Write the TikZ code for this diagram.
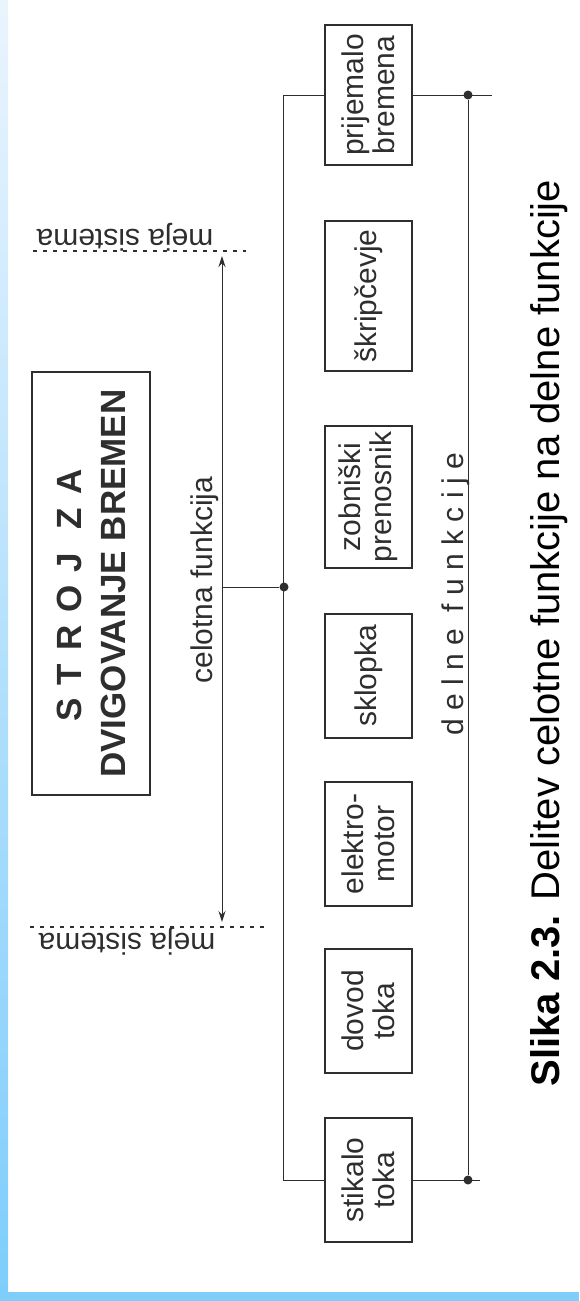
\documentclass[tikz,border=0pt]{standalone}
\usepackage{fontspec}
\setmainfont{Liberation Sans}
\usetikzlibrary{arrows.meta}
\definecolor{ink}{HTML}{2E2E2E}
\definecolor{stripa}{HTML}{EAF4FD}
\definecolor{stripb}{HTML}{7ECDFB}

\begin{document}
\begin{tikzpicture}[x=1pt,y=-1pt,>={Stealth[length=11pt,width=7pt]},color=ink,line width=1pt,
  funcbox/.style={draw,rotate=90,line width=1.4pt,minimum height=87pt,inner sep=0pt,align=center,font=\fontsize{30}{31}\selectfont},
  dot/.style={circle,fill,inner sep=0pt,minimum size=9pt},
  rtext/.style={rotate=90,anchor=base,inner sep=0pt},
  meja/.style={rotate=180,anchor=base,inner sep=0pt,font=\fontsize{30}{30}\selectfont},
  bound/.style={line width=1.1pt,dash pattern=on 4pt off 6pt}]
\useasboundingbox (0,0) rectangle (579,1301);
% blue frame
\shade[top color=stripa,bottom color=stripb] (0,0) rectangle (8,1301);
\fill[stripb] (0,1292) rectangle (579,1301);
% whole machine
\node[draw,rotate=90,line width=1.6pt,minimum width=423pt,minimum height=118pt,align=center,font=\bfseries\fontsize{35}{44}\selectfont] (stroj) at (91,583.5) {S\hspace{13pt}T\hspace{13pt}R\hspace{13pt}O\hspace{13pt}J\hspace{24pt}Z\hspace{13pt}A\kern24pt\\DVIGOVANJE BREMEN};
% system boundary
\coordinate (ma) at (222,256);
\coordinate (mb) at (222,922);
\draw[bound] (33,251) -- (246,251);
\draw[bound] (30,927) -- (264,927);
\node[meja] (mejaA) at (125,229) {meja sistema};
\node[meja] (mejaB) at (127,933) {meja sistema};
\draw[<->] (ma) -- (mb);
\node[rtext,font=\fontsize{30}{30}\selectfont] (celotna) at (212,580) {celotna funkcija};
% partial functions
\foreach \n/\y/\w/\t in {stikalo/1180/124/{stikalo\\toka}, dovod/1011/124/{dovod\\toka}, motor/844/124/{elektro-\\motor}, sklopka/676/124/sklopka, prenosnik/497/142/{zobniški\\prenosnik}, skripcevje/296/150/škripčevje, prijemalo/95/140/{prijemalo\\bremena}}
  \node[funcbox,minimum width=\w pt] (\n) at (368.5,\y) {\t};
\node[dot] (dotC) at (284,587) {};
\node[dot] (dotS) at (468,1180) {};
\node[dot] (dotP) at (468,95) {};
\draw (stikalo.north) -- ++(-41,0) |- (prijemalo.north);
\draw (dotC) -- (ma |- dotC);
\draw (stikalo.south) -- ++(67,0);
\draw (prijemalo.south) -- ++(79,0);
\draw (dotS) -- (dotP);
\node[rtext,font=\fontsize{30}{30}\selectfont] (delne) at (463,594) {d e l n e \ f u n k c i j e};
% caption
\node[rtext,text=black,font=\fontsize{40}{40}\selectfont] (slika) at (559,633) {\textbf{Slika 2.3.} Delitev celotne funkcije na delne funkcije};
\end{tikzpicture}
\end{document}
